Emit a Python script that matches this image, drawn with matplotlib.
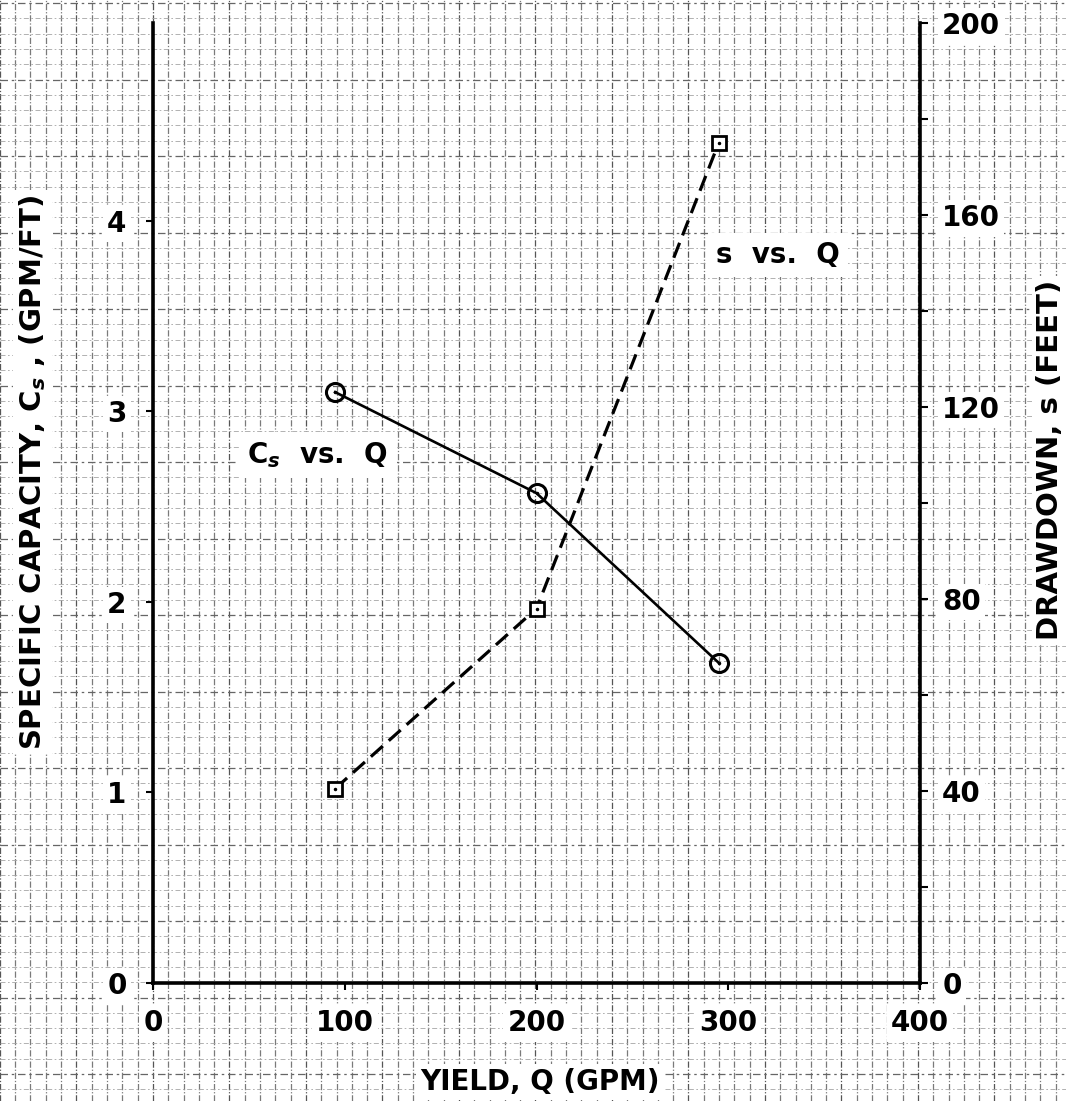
import numpy as np
import matplotlib
matplotlib.use("Agg")
import matplotlib.pyplot as plt

# donnees
q_cs = [95, 200, 295]          # debit (GPM)
cs = [3.10, 2.57, 1.68]        # capacite specifique (GPM/FT)
q_s = [95, 200, 295]
s = [40.5, 78, 175]            # rabattement (FEET)

x_ticks = [0, 100, 200, 300, 400]
yl_ticks = [0, 1, 2, 3, 4]
yr_ticks = [0, 40, 80, 120, 160, 200]

plt.rcParams['font.family'] = ['DejaVu Sans']
plt.rcParams['font.weight'] = 'bold'

W, H = 1066, 1101
fig = plt.figure(figsize=(W / 100, H / 100), dpi=100)

"""le papier millimetre en fond"""
bg = fig.add_axes([0, 0, 1, 1])
bg.set_xlim(0, W)
bg.set_ylim(H, 0)
bg.axis('off')
step = 15.3
for k, xv in enumerate(np.arange(107 - 7 * step, W, step)):
    bg.axvline(xv, color='#555555' if k % 5 == 0 else '#7a7a7a',
               lw=0.9, ls=(0, (5, 1.5, 1, 1.5)), zorder=0)
for k, yv in enumerate(np.arange(3, H, step)):
    bg.axhline(yv, color='#666666' if k % 5 == 0 else '#a5a5a5',
               lw=0.9 if k % 5 == 0 else 0.6, ls=(0, (6, 3, 2, 3)), zorder=0)

left, right = 153 / W, 920 / W
bottom, top = 118 / H, (H - 23) / H
ax = fig.add_axes([left, bottom, right - left, top - bottom])
ax.patch.set_alpha(0)
ax2 = ax.twinx()

ax.set_xlim(0, 400)
ax.set_ylim(0, 960 / 190.6)
ax2.set_ylim(0, 200)

for a in (ax, ax2):
    a.spines['top'].set_visible(False)
    for sp in ('left', 'right', 'bottom'):
        a.spines[sp].set_linewidth(2.6)
ax.spines['right'].set_visible(False)
ax2.spines['left'].set_visible(False)
ax2.spines['bottom'].set_visible(False)

fs = 20
box = dict(facecolor='white', edgecolor='none', pad=3)

ax.set_xticks(x_ticks)
ax.set_yticks(yl_ticks)
ax2.set_yticks(yr_ticks)
ax2.set_yticks([20, 60, 100, 140, 180], minor=True)
ax.tick_params(axis='x', direction='out', length=5, width=1.5, pad=14, labelsize=fs)
ax.tick_params(axis='y', direction='out', length=5, width=1.5, pad=14, labelsize=fs)
ax2.tick_params(axis='y', which='both', direction='out', length=6, width=1.5, pad=10, labelsize=fs)
for lbl in ax.get_xticklabels() + ax.get_yticklabels() + ax2.get_yticklabels():
    lbl.set_fontweight('bold')
    lbl.set_bbox(box)

ax.set_xlabel("YIELD, Q (GPM)", fontsize=fs, fontweight='bold', bbox=box)
ax.set_ylabel("SPECIFIC CAPACITY, C$_{s}$ , (GPM/FT)", fontsize=21,
              fontweight='bold', bbox=box)
ax2.set_ylabel("DRAWDOWN, s (FEET)", fontsize=21, fontweight='bold', bbox=box)
ax.xaxis.set_label_coords(0.505, -0.0885)
ax.yaxis.set_label_coords(-0.137, 0.532)
ax2.yaxis.set_label_coords(1.151, 0.545)

# Cs en fonction de Q
ax.plot(q_cs, cs, color='black', lw=1.9, marker='o', ms=13, mfc='none',
        mew=2.2, zorder=5)
ax.plot(q_cs, cs, ls='none', marker='.', ms=3, color='black', zorder=6)

# s en fonction de Q
ax2.plot(q_s, s, color='black', lw=2.3, ls=(0, (5, 2.5)), marker='s', ms=10,
         mfc='white', mew=2.0, zorder=5)
ax2.plot(q_s, s, ls='none', marker='.', ms=3, color='black', zorder=6)

ax.text(86, 2.77, "C$_s$  vs.  Q", fontsize=fs, fontweight='bold',
        ha='center', va='center', bbox=dict(facecolor='white', edgecolor='none', pad=6))
ax.text(326, 3.82, "s  vs.  Q", fontsize=fs, fontweight='bold',
        ha='center', va='center', bbox=dict(facecolor='white', edgecolor='none', pad=6))

fig.savefig("out.png", dpi=100)
